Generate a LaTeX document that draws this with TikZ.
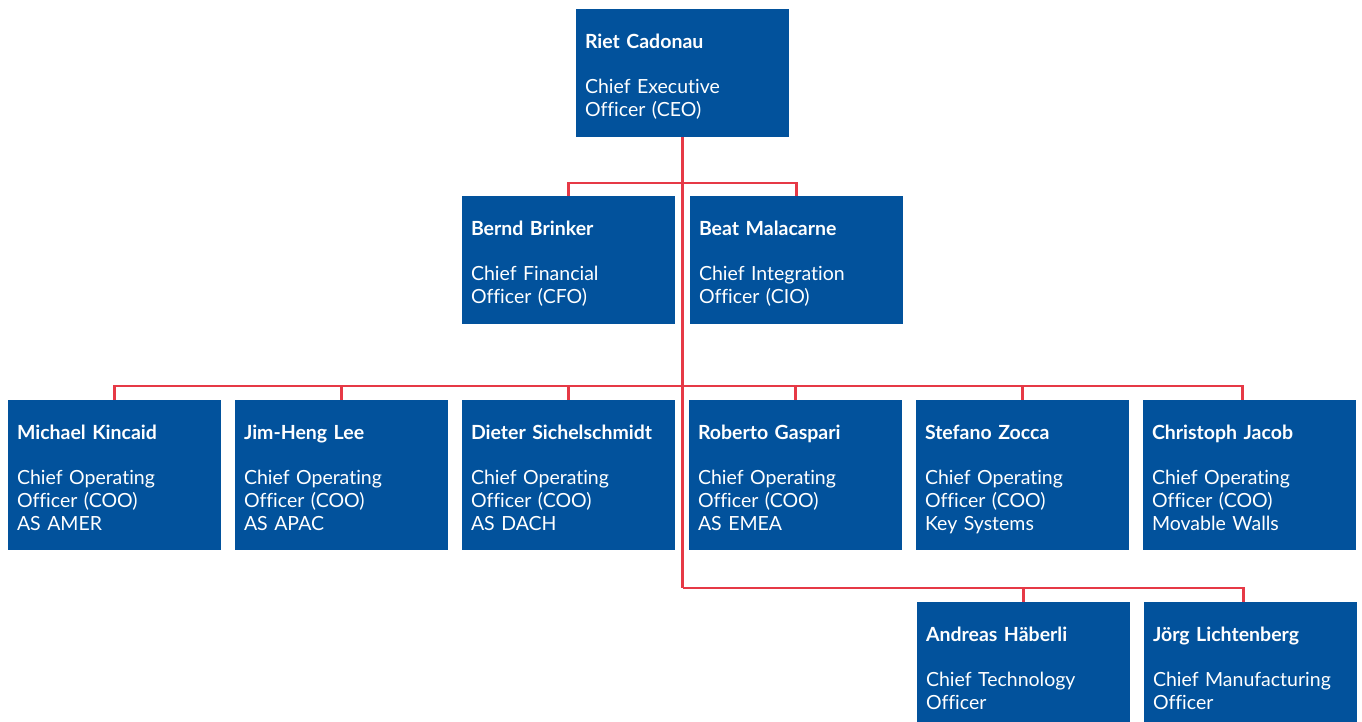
\documentclass[tikz,border=0pt]{standalone}
\usepackage{fontspec}
\setmainfont{Lato}[Ligatures=NoCommon]
\usetikzlibrary{positioning}
\definecolor{orgblue}{HTML}{02529C}
\definecolor{orgred}{HTML}{E63946}
\tikzset{
  card/.style={rectangle, fill=orgblue, text=white, anchor=north, inner xsep=9pt, inner ysep=0pt,
    text width=195pt, align=left, text height=39pt, font=\fontsize{19.5}{23}\selectfont},
  short card/.style={card, text depth=89pt},
  tall card/.style={card, text depth=111pt},
  link/.style={draw=orgred, line width=2.5pt}
}
\newcommand{\person}[2]{\textbf{#1}\\[22pt]#2}

\begin{document}
\begin{tikzpicture}[x=1pt,y=-1pt,on grid,node distance=227pt]
        \useasboundingbox (0,0) rectangle (1362,722);
        \node[short card] (ceo) at (682.5,9) {\person{Riet Cadonau}{Chief Executive\\Officer (CEO)}};

        \node[short card] (cfo) at (568.5,196) {\person{Bernd Brinker}{Chief Financial\\Officer (CFO)}};
        \node[short card] (cio) [right=228pt of cfo] {\person{Beat Malacarne}{Chief Integration\\Officer (CIO)}};

        \node[tall card] (coo_1) at (114.5,400) {\person{Michael Kincaid}{Chief Operating\\Officer (COO)\\AS AMER}};
        \node[tall card] (coo_2) [right=of coo_1] {\person{Jim-Heng Lee}{Chief Operating\\Officer (COO)\\AS APAC}};
        \node[tall card] (coo_3) [right=of coo_2] {\person{Dieter Sichelschmidt}{Chief Operating\\Officer (COO)\\AS DACH}};
        \node[tall card] (coo_4) [right=of coo_3] {\person{Roberto Gaspari}{Chief Operating\\Officer (COO)\\AS EMEA}};
        \node[tall card] (coo_5) [right=of coo_4] {\person{Stefano Zocca}{Chief Operating\\Officer (COO)\\Key Systems}};
        \node[tall card] (coo_6) [right=of coo_5] {\person{Christoph Jacob}{Chief Operating\\Officer (COO)\\Movable Walls}};

        \node[tall card] (cto) at (1023.5,602) {\person{Andreas Häberli}{Chief Technology\\Officer}};
        \node[tall card] (cmo) [right=of cto] {\person{Jörg Lichtenberg}{Chief Manufacturing\\Officer}};

        \coordinate (trunk) at (ceo.south |- 0,588);
        \path[link]
        (ceo.south) -- (trunk)
        (cfo.north) -- ++(0,-13) -| (cio.north)
        (coo_1.north) -- ++(0,-14) -| ([xshift=-7pt]coo_6.north)
        (coo_2.north) -- ++(0,-14)
        (coo_3.north) -- ++(0,-14)
        (coo_4.north) -- ++(0,-14)
        (coo_5.north) -- ++(0,-14)
        (trunk) -| (cto.north)
        (trunk) -| ([xshift=-7pt]cmo.north);
    \end{tikzpicture}
\end{document}
